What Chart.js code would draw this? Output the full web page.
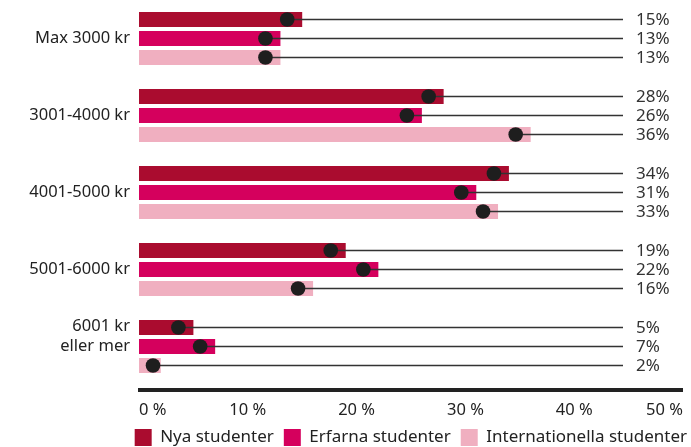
<!DOCTYPE html>
<html>
<head>
<meta charset="utf-8">
<script src="https://cdn.jsdelivr.net/npm/chart.js@4/dist/chart.umd.min.js"></script>
<style>
  html, body { margin: 0; padding: 0; background: #fff; }
  #wrap { width: 691px; height: 447px; }
</style>
</head>
<body>
<div id="wrap"><canvas id="budgetChart"></canvas></div>
<script>
// trailing empty line lifts the two-line label so it sits on the upper bars
const categories = ['Max 3000 kr', '3001-4000 kr', '4001-5000 kr', '5001-6000 kr', ['6001 kr', 'eller mer', '']];
const seriesNames = ['Nya studenter', 'Erfarna studenter', 'Internationella studenter'];
const nya = [15, 28, 34, 19, 5];
const erfarna = [13, 26, 31, 22, 7];
const internationella = [13, 36, 33, 16, 2];
const xTicks = [0, 10, 20, 30, 40, 50];
const colors = ['#aa0c2f', '#d5005d', '#f0afc0'];

const FONT = '"Noto Sans", "Open Sans", sans-serif';
const seriesData = [nya, erfarna, internationella];

// dot + leader line + percent label for every bar, thick base line under the bars
const markerPlugin = {
  id: 'markers',
  afterLayout(chart) {
    // push the legend row a bit further right
    chart.legend.left += 14;
    chart.legend.right += 14;
  },
  afterDatasetsDraw(chart) {
    const ctx = chart.ctx;
    const area = chart.chartArea;
    const lineEnd = area.right - 60;
    const labelX = area.right - 47;
    ctx.save();
    ctx.fillStyle = '#222';
    ctx.fillRect(area.left - 1, area.bottom + 3, area.right - area.left + 1, 4);
    chart.data.datasets.forEach((ds, di) => {
      const meta = chart.getDatasetMeta(di);
      meta.data.forEach((bar, i) => {
        const cx = Math.max(bar.x - 15, bar.base + 14);
        ctx.strokeStyle = '#333';
        ctx.lineWidth = 1.5;
        ctx.beginPath();
        ctx.moveTo(cx, bar.y);
        ctx.lineTo(lineEnd, bar.y);
        ctx.stroke();
        ctx.fillStyle = '#1e1e1e';
        ctx.beginPath();
        ctx.arc(cx, bar.y, 7.3, 0, Math.PI * 2);
        ctx.fill();
        ctx.fillStyle = '#333';
        ctx.font = '17px ' + FONT;
        ctx.textAlign = 'left';
        ctx.textBaseline = 'middle';
        ctx.fillText(ds.data[i] + '%', labelX, bar.y + 1);
      });
    });
    ctx.restore();
  }
};

new Chart(document.getElementById('budgetChart'), {
  type: 'bar',
  data: {
    labels: categories,
    datasets: seriesNames.map((name, k) => ({
      label: name,
      data: seriesData[k],
      backgroundColor: colors[k],
      borderWidth: 0,
      categoryPercentage: 0.74,
      barPercentage: 0.79
    }))
  },
  options: {
    indexAxis: 'y',
    responsive: true,
    maintainAspectRatio: false,
    animation: false,
    layout: { padding: { top: -2, right: 8, bottom: -9, left: 0 } },
    plugins: {
      legend: {
        position: 'bottom',
        align: 'end',
        labels: {
          boxWidth: 17,
          boxHeight: 17,
          padding: 10,
          color: '#222',
          font: { family: FONT, size: 17 }
        }
      },
      tooltip: { enabled: false }
    },
    scales: {
      x: {
        min: 0,
        max: 50,
        afterBuildTicks(scale) {
          scale.ticks = xTicks.map(v => ({ value: v }));
        },
        afterFit(scale) {
          scale.height = 34;
          scale.paddingLeft = 0;
          scale.paddingRight = 0;
        },
        grid: { display: false, drawTicks: false },
        border: { display: false },
        ticks: {
          align: 'inner',
          padding: 15,
          color: '#222',
          font: { family: FONT, size: 16.5 },
          callback: v => v + ' %'
        }
      },
      y: {
        grid: { display: false, drawTicks: false },
        border: { display: false },
        afterFit(scale) {
          scale.width = 139;
          scale.paddingTop = 0;
          scale.paddingBottom = 0;
        },
        ticks: {
          padding: 9,
          color: '#222',
          font: { family: FONT, size: 16.5 }
        }
      }
    }
  },
  plugins: [markerPlugin]
});
</script>
</body>
</html>
